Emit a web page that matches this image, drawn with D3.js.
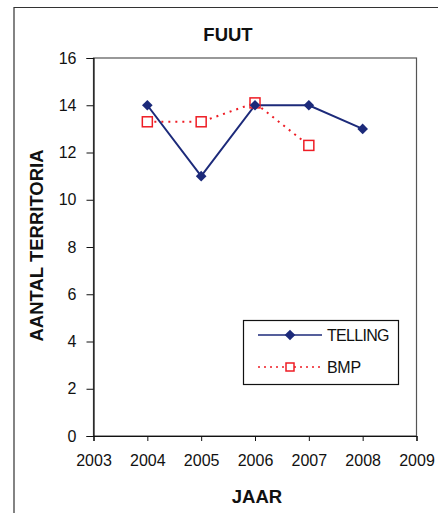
<!DOCTYPE html>
<html><head><meta charset="utf-8">
<script src="https://cdn.jsdelivr.net/npm/d3@7"></script>
<style>body{margin:0;background:#fff;} svg{display:block;}</style>
</head><body>
<svg id="c" width="438" height="513"></svg>
<script>
const years = [2004, 2005, 2006, 2007, 2008];
const telling = [14, 11, 14, 14, 13];
const bmpYears = [2004, 2005, 2006, 2007];
const bmp = [13.3, 13.3, 14.1, 12.3];
const xTicks = [2003, 2004, 2005, 2006, 2007, 2008, 2009];
const yTicks = [0, 2, 4, 6, 8, 10, 12, 14, 16];

const svg = d3.select("#c");
const font = "Liberation Sans, Arial, sans-serif";
const m = {l: 93.5, r: 416.5, t: 58, b: 436};
const x = d3.scaleLinear().domain([2003, 2009]).range([m.l, m.r]);
const y = d3.scaleLinear().domain([0, 16]).range([m.b, m.t]);

// outer frame
svg.append("path").attr("d", "M14,513 V7.5 H438").attr("fill", "none").attr("stroke", "#333").attr("stroke-width", 1.2);

// plot box
svg.append("rect").attr("x", m.l).attr("y", m.t).attr("width", m.r - m.l).attr("height", m.b - m.t)
  .attr("fill", "none").attr("stroke", "#555").attr("stroke-width", 1.2);

const yAxis = svg.append("g").attr("transform", `translate(${m.l},0)`)
  .call(d3.axisLeft(y).tickValues(yTicks).tickSize(7).tickPadding(10).tickFormat(d3.format("d")));
const xAxis = svg.append("g").attr("transform", `translate(0,${m.b})`)
  .call(d3.axisBottom(x).tickValues(xTicks).tickSize(5).tickPadding(14).tickFormat(d3.format("d")));
[yAxis, xAxis].forEach(a => {
  a.select(".domain").attr("stroke", "#111").attr("stroke-width", 1.2);
  a.selectAll("line").attr("stroke", "#111");
  a.selectAll("text").attr("font-family", font).attr("font-size", 16).attr("fill", "#111");
});

// titles
svg.append("text").attr("x", 228).attr("y", 41).attr("text-anchor", "middle")
  .attr("font-family", font).attr("font-weight", "bold").attr("font-size", 18.5).attr("fill", "#111").text("FUUT");
svg.append("text").attr("x", 257).attr("y", 503).attr("text-anchor", "middle")
  .attr("font-family", font).attr("font-weight", "bold").attr("font-size", 18.5).attr("fill", "#111").text("JAAR");
svg.append("text").attr("transform", "translate(43,245.5) rotate(-90)").attr("text-anchor", "middle")
  .attr("font-family", font).attr("font-weight", "bold").attr("font-size", 18.5).attr("fill", "#111").text("AANTAL TERRITORIA");

const navy = "#1c2a7a", red = "#ee1c24";
const line = d3.line().x(d => x(d[0])).y(d => y(d[1]));
const tData = years.map((yr, i) => [yr, telling[i]]);
const bData = bmpYears.map((yr, i) => [yr, bmp[i]]);

svg.append("path").datum(bData).attr("d", line).attr("fill", "none").attr("stroke", red)
  .attr("stroke-width", 2).attr("stroke-dasharray", "2,5");
svg.append("path").datum(tData).attr("d", line).attr("fill", "none").attr("stroke", navy).attr("stroke-width", 2);

const diamond = d3.symbol().type(d3.symbolDiamond2).size(72);
svg.selectAll(".bm").data(bData).join("rect")
  .attr("x", d => x(d[0]) - 5).attr("y", d => y(d[1]) - 5).attr("width", 10).attr("height", 10)
  .attr("fill", "#fff").attr("stroke", red).attr("stroke-width", 1.5);
svg.selectAll(".tm").data(tData).join("path")
  .attr("transform", d => `translate(${x(d[0])},${y(d[1])})`).attr("d", diamond).attr("fill", navy);

// legend
const lg = svg.append("g");
lg.append("rect").attr("x", 243.5).attr("y", 320.5).attr("width", 155).attr("height", 64)
  .attr("fill", "#fff").attr("stroke", "#111").attr("stroke-width", 1.2);
lg.append("line").attr("x1", 258).attr("x2", 322).attr("y1", 335).attr("y2", 335).attr("stroke", navy).attr("stroke-width", 1.5);
lg.append("path").attr("transform", "translate(290,335)").attr("d", diamond).attr("fill", navy);
lg.append("line").attr("x1", 258).attr("x2", 322).attr("y1", 367).attr("y2", 367).attr("stroke", red)
  .attr("stroke-width", 1.5).attr("stroke-dasharray", "2,4");
lg.append("rect").attr("x", 286).attr("y", 363).attr("width", 8).attr("height", 8)
  .attr("fill", "#fff").attr("stroke", red).attr("stroke-width", 1.5);
lg.append("text").attr("x", 327).attr("y", 341).attr("font-family", font).attr("font-size", 16)
  .attr("fill", "#111").attr("letter-spacing", -0.7).text("TELLING");
lg.append("text").attr("x", 327).attr("y", 373).attr("font-family", font).attr("font-size", 16)
  .attr("fill", "#111").attr("letter-spacing", -0.3).text("BMP");
</script>
</body></html>
